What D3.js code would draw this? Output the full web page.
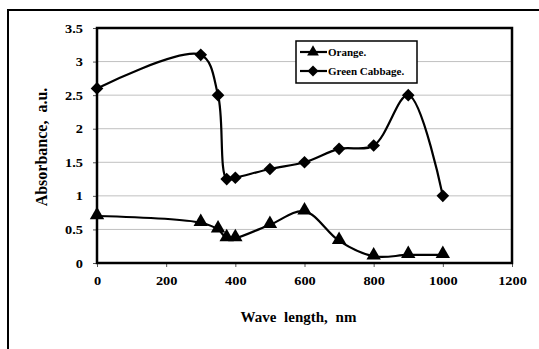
<!DOCTYPE html>
<html>
<head>
<meta charset="utf-8">
<script src="https://cdn.jsdelivr.net/npm/d3@7"></script>
<style>
  body { margin: 0; background: #fff; }
  text { font-family: "Liberation Serif", "Times New Roman", serif; font-weight: bold; }
</style>
</head>
<body>
<div id="chart"></div>
<script>
var wavelengths = [0, 300, 350, 375, 400, 500, 600, 700, 800, 900, 1000];
var orange = [0.7, 0.6, 0.5, 0.37, 0.37, 0.57, 0.77, 0.33, 0.1, 0.12, 0.12];
var cabbage = [2.6, 3.1, 2.5, 1.25, 1.27, 1.4, 1.5, 1.7, 1.75, 2.5, 1.0];
var xTicks = [0, 200, 400, 600, 800, 1000, 1200];
var yTicks = [0, 0.5, 1, 1.5, 2, 2.5, 3, 3.5];

var W = 539, H = 349;
var margin = { top: 28, right: 27, bottom: 86, left: 97 },
  width = W - margin.left - margin.right,
  height = H - margin.top - margin.bottom;
var stretch = 1.25; // labels in the source are drawn wide

var svg = d3.select("#chart").append("svg")
  .attr("width", W)
  .attr("height", H);

// outer chart frame (cut off at right / bottom like the source)
svg.append("rect")
  .attr("x", 8).attr("y", 10)
  .attr("width", W + 10).attr("height", H + 10)
  .attr("fill", "none")
  .attr("stroke", "#000")
  .attr("stroke-width", 2);

var g = svg.append("g")
  .attr("transform", "translate(" + margin.left + "," + margin.top + ")");

var x = d3.scaleLinear().domain([0, 1200]).range([0, width]);
var y = d3.scaleLinear().domain([0, 3.5]).range([height, 0]);

// gridlines
g.selectAll(".grid").data(yTicks.slice(1, -1)).enter().append("line")
  .attr("x1", 0).attr("x2", width)
  .attr("y1", function(d) { return y(d); })
  .attr("y2", function(d) { return y(d); })
  .attr("stroke", "#c0c0c0")
  .attr("stroke-width", 1);

// axes
var xAxis = g.append("g")
  .attr("transform", "translate(0," + height + ")")
  .call(d3.axisBottom(x).tickValues(xTicks).tickSize(4).tickFormat(d3.format("d")));
var yAxis = g.append("g")
  .call(d3.axisLeft(y).tickValues(yTicks).tickSize(4)
    .tickFormat(function(d) { return String(d); }));
[xAxis, yAxis].forEach(function(a) {
  a.select(".domain").remove();
  a.selectAll("line").attr("stroke", "#555");
  a.selectAll("text").attr("font-size", 11.5).attr("fill", "#000")
    .style("font-family", "'Liberation Serif', serif").style("font-weight", "bold")
    .attr("transform", "scale(" + stretch + ",1)");
});
xAxis.selectAll("text").attr("y", 14).attr("dy", "0.71em");
yAxis.selectAll("text").attr("x", -14 / stretch).attr("dy", "0.35em");

// plot border
g.append("rect")
  .attr("width", width).attr("height", height)
  .attr("fill", "none").attr("stroke", "#000").attr("stroke-width", 2.5);

var line = d3.line()
  .x(function(d) { return x(d[0]); })
  .y(function(d) { return y(d[1]); })
  .curve(d3.curveCatmullRom.alpha(0.5));

var orangeData = wavelengths.map(function(w, i) { return [w, orange[i]]; });
var cabbageData = wavelengths.map(function(w, i) { return [w, cabbage[i]]; });

[orangeData, cabbageData].forEach(function(data) {
  g.append("path")
    .attr("d", line(data))
    .attr("fill", "none")
    .attr("stroke", "#000")
    .attr("stroke-width", 2.2);
});

var tri = d3.symbol().type(d3.symbolTriangle).size(90);
var dia = d3.symbol().type(d3.symbolSquare).size(80);

g.selectAll(".tri").data(orangeData).enter().append("path")
  .attr("d", tri)
  .attr("transform", function(d) { return "translate(" + x(d[0]) + "," + (y(d[1]) - 1) + ")"; })
  .attr("fill", "#000");

g.selectAll(".dia").data(cabbageData).enter().append("path")
  .attr("d", dia)
  .attr("transform", function(d) { return "translate(" + x(d[0]) + "," + y(d[1]) + ") rotate(45)"; })
  .attr("fill", "#000");

// legend
var lg = svg.append("g").attr("transform", "translate(296,41)");
lg.append("rect")
  .attr("width", 121).attr("height", 42)
  .attr("fill", "#fff").attr("stroke", "#000").attr("stroke-width", 1.5);
var items = [["Orange.", tri, ""], ["Green Cabbage.", dia, " rotate(45)"]];
items.forEach(function(it, i) {
  var cy = 11 + i * 19;
  lg.append("line").attr("x1", 4).attr("x2", 31).attr("y1", cy).attr("y2", cy)
    .attr("stroke", "#000").attr("stroke-width", 2.2);
  lg.append("path").attr("d", it[1].size(60))
    .attr("transform", "translate(17," + cy + ")" + it[2]).attr("fill", "#000");
  lg.append("text").attr("x", 32).attr("y", cy + 4)
    .attr("font-size", 11).text(it[0]);
});

// axis titles
svg.append("text")
  .attr("x", margin.left + width / 2 - 6)
  .attr("y", 322)
  .attr("text-anchor", "middle")
  .attr("font-size", 15)
  .style("word-spacing", "4px")
  .text("Wave length, nm");

svg.append("text")
  .attr("transform", "translate(47,147) rotate(-90)")
  .attr("text-anchor", "middle")
  .attr("font-size", 16)
  .style("word-spacing", "4px")
  .text("Absorbance, a.u.");
</script>
</body>
</html>
